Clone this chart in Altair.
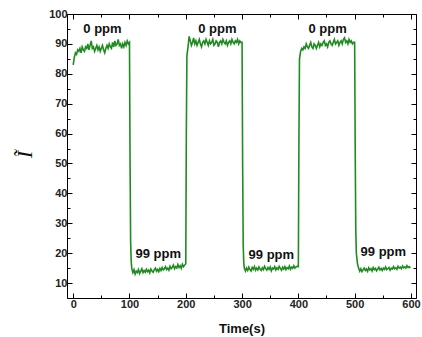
import altair as alt
import pandas as pd

# ---------------- data ----------------
# plateau segments: start time, 2 s spacing
air1_start = 0
air1_v = [83, 85.5, 87, 86.5, 88, 87.5, 88.5, 87, 89, 88, 87.5, 89, 88.5, 90, 88, 89.5, 91, 88.5,
          89, 87.5, 88.5, 89.5, 88, 89, 87.5, 88.5, 89.5, 88, 87, 88.5, 89.5, 88.5, 90, 89, 88.5,
          90.5, 89, 91, 89.5, 90, 91.5, 89.5, 90, 88.5, 90, 89, 90.5, 89.5, 91, 90]
drop1_t = [100, 101, 102, 103, 104]
drop1_v = [90.5, 52, 24, 17.5, 15]
gas1_start = 106
gas1_v = [13.5, 14.5, 13, 14, 13.5, 14.5, 13.2, 14, 14.8, 13.5, 14.2, 13.6, 14.6, 13.8, 14.3, 13.4,
          14.7, 14, 13.6, 14.5, 15, 14, 14.6, 13.8, 14.9, 14.2, 15.2, 14.4, 14.8, 15.5, 14.5, 15,
          14.3, 15.6, 14.8, 15.3, 16, 14.8, 15.5, 15, 16.2, 15.2, 15.8, 14.9, 16.3, 15.5, 16]
rise1_t = [200, 201, 202, 204, 206]
rise1_v = [16.5, 60, 86, 89, 92.5]
air2_start = 208
air2_v = [91, 89.5, 90.5, 92, 90, 91, 89.5, 90.5, 91.5, 90, 89, 90.5, 91, 90, 91.5, 90.5, 89.5, 91,
          90, 90.5, 91.5, 89.5, 90, 91, 90.5, 89, 90.5, 91, 90, 91.5, 90.5, 90, 91, 89.5, 90.5, 91,
          90, 91.5, 90.5, 90, 91, 90.5, 91.5, 90, 91, 90.5]
drop2_t = [300, 301, 302, 303, 304]
drop2_v = [90.5, 50, 23, 17, 15]
gas2_start = 306
gas2_v = [14, 15, 14.2, 15.3, 14.5, 14, 15.2, 14.6, 15.5, 14.3, 15, 14.4, 15.4, 14.7, 14.2, 15.1,
          14.5, 15.6, 14.8, 14.3, 15.2, 14.6, 15.4, 14.1, 15, 14.7, 15.5, 14.4, 15.1, 14.6, 15.6,
          14.9, 14.3, 15.3, 14.7, 15.5, 14.5, 15.2, 14.8, 15.7, 14.6, 15.3, 14.9, 15.8, 15, 15.4, 15.6]
rise2_t = [400, 401, 402, 404, 406]
rise2_v = [15.5, 58, 85, 87.5, 88.5]
air3_start = 408
air3_v = [88, 89, 88.5, 90, 89, 88.5, 89.5, 90.5, 89, 88.5, 90, 89.5, 88.5, 89.5, 90.5, 89, 90, 89.5,
          90.5, 91, 89.5, 90, 89, 90.5, 91, 90, 89.5, 90.5, 91.5, 90, 90.5, 91, 89.5, 90.5, 91, 90,
          91.5, 92, 90.5, 91, 90, 91.5, 90.5, 91, 90, 90.5]
drop3_t = [500, 501, 502, 503, 505, 507]
drop3_v = [90.5, 55, 28, 20, 16.5, 15]
gas3_start = 509
gas3_v = [14, 14.8, 13.8, 14.5, 15, 14.2, 14.7, 13.9, 15.1, 14.4, 14.8, 14, 15.2, 14.5, 14.9, 14.1,
          14.7, 15.3, 14.4, 14.9, 14.2, 15, 14.6, 15.4, 14.5, 14.8, 15.2, 14.3, 15, 14.7, 15.5, 14.8,
          15.1, 14.6, 15.6, 15, 15.3, 14.8, 15.7, 15.1, 15.4, 15, 15.8, 15.2, 15.5, 15]

ann_t = [52, 256, 452, 151, 352, 551]
ann_v = [95, 95, 95, 19.6, 19.5, 20.5]
ann_text = ["0 ppm", "0 ppm", "0 ppm", "99 ppm", "99 ppm", "99 ppm"]

x_major = [0, 100, 200, 300, 400, 500, 600]
x_minor = [50, 150, 250, 350, 450, 550]
y_major = [10, 20, 30, 40, 50, 60, 70, 80, 90, 100]
y_minor = [5, 15, 25, 35, 45, 55, 65, 75, 85, 95]

# ---------------- assemble ----------------
T, V = [], []
def plateau(start, vals):
    T.extend(start + 2 * i for i in range(len(vals)))
    V.extend(vals)
def trans(ts, vs):
    T.extend(ts)
    V.extend(vs)

plateau(air1_start, air1_v); trans(drop1_t, drop1_v)
plateau(gas1_start, gas1_v); trans(rise1_t, rise1_v)
plateau(air2_start, air2_v); trans(drop2_t, drop2_v)
plateau(gas2_start, gas2_v); trans(rise2_t, rise2_v)
plateau(air3_start, air3_v); trans(drop3_t, drop3_v)
plateau(gas3_start, gas3_v)

df = pd.DataFrame({"t": T, "v": V})
ann = pd.DataFrame({"t": ann_t, "v": ann_v, "label": ann_text})

FONT = "Liberation Sans"
GREEN = "#1f8c1f"
xs = alt.Scale(domain=[-11, 609], nice=False, zero=False)
ys = alt.Scale(domain=[5, 100], nice=False, zero=False)

def tick_axis(orient, values, size, domain=True):
    return alt.Axis(orient=orient, values=values, labels=False, title=None, grid=False,
                    domain=domain, domainColor="#000", domainWidth=1,
                    tickColor="#000", tickWidth=1, tickSize={"expr": str(-size)})

main = alt.Chart(df).mark_line(color=GREEN, strokeWidth=1.6).encode(
    x=alt.X("t:Q", scale=xs, axis=alt.Axis(
        orient="bottom", values=x_major, grid=False, title="Time(s)",
        titleFont=FONT, titleFontSize=13, titleFontWeight="bold", titleColor="#111",
        titleY=30, titleBaseline="middle",
        labelFont=FONT, labelFontSize=11, labelFontWeight="bold", labelColor="#222",
        labelPadding=5, domainColor="#000", tickColor="#000", tickSize={"expr": "-5"})),
    y=alt.Y("v:Q", scale=ys, axis=alt.Axis(
        orient="left", values=y_major, grid=False, title="Ĩ",
        titleFont="Liberation Serif", titleFontSize=22, titleFontStyle="italic",
        titleFontWeight="normal", titleColor="#111", titleAngle=270,
        titleX=-43, titleY=140, titleAlign="center", titleBaseline="middle",
        labelFont=FONT, labelFontSize=11, labelFontWeight="bold", labelColor="#222",
        labelPadding=5, domainColor="#000", tickColor="#000", tickSize={"expr": "-5"})),
)

ghost = alt.Chart(df).mark_line(opacity=0)
mirror = ghost.encode(
    x=alt.X("t:Q", scale=xs, axis=tick_axis("top", x_major, 5)),
    y=alt.Y("v:Q", scale=ys, axis=tick_axis("right", y_major, 5)),
)
minor1 = ghost.encode(
    x=alt.X("t:Q", scale=xs, axis=tick_axis("bottom", x_minor, 3, False)),
    y=alt.Y("v:Q", scale=ys, axis=tick_axis("left", y_minor, 3, False)),
)
minor2 = ghost.encode(
    x=alt.X("t:Q", scale=xs, axis=tick_axis("top", x_minor, 3, False)),
    y=alt.Y("v:Q", scale=ys, axis=tick_axis("right", y_minor, 3, False)),
)

labels = alt.Chart(ann).mark_text(font=FONT, fontSize=13, fontWeight="bold", color="#111",
                                  baseline="middle", align="center").encode(
    x=alt.X("t:Q", scale=xs, axis=None),
    y=alt.Y("v:Q", scale=ys, axis=None),
    text="label:N",
)

chart = alt.layer(mirror, minor1, minor2, main, labels).resolve_axis(
    x="independent", y="independent"
).properties(
    width=349, height=284,
    autosize=alt.AutoSizeParams(type="none"),
    padding={"left": 67, "top": 14, "right": 6, "bottom": 39},
).configure_view(strokeWidth=0).configure(background="white")

chart.save("out.html", embed_options={"renderer": "svg", "actions": False})
